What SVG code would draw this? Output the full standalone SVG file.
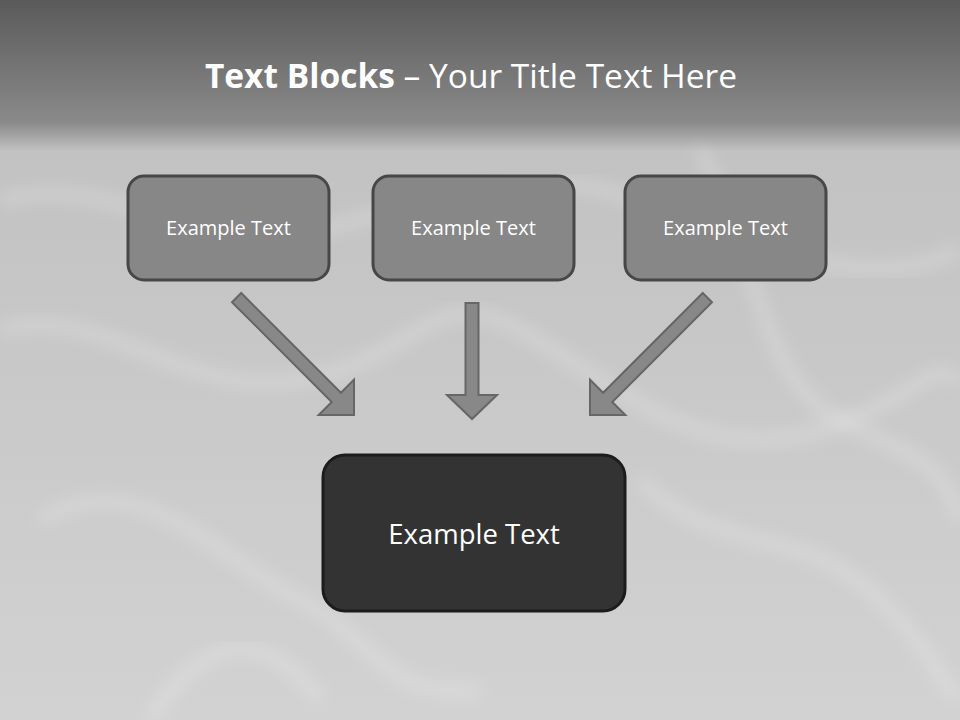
<svg xmlns="http://www.w3.org/2000/svg" width="960" height="720" viewBox="0 0 960 720">
<defs>
<linearGradient id="bg" x1="0" y1="0" x2="0" y2="1">
<stop offset="0" stop-color="#5a5a5a"/>
<stop offset="0.17" stop-color="#8a8a8a"/>
<stop offset="0.21" stop-color="#c2c2c2"/>
<stop offset="0.6" stop-color="#cacaca"/>
<stop offset="1" stop-color="#d2d2d2"/>
</linearGradient>
<filter id="blur" x="-10%" y="-10%" width="120%" height="120%"><feGaussianBlur stdDeviation="8"/></filter>
<path id="arr" d="M -6.5 -166 L 6.5 -166 L 6.5 -25 L 25 -25 L 0 0 L -25 -25 L -6.5 -25 Z"/>
<path id="arrv" d="M -6.5 -116 L 6.5 -116 L 6.5 -24 L 25 -24 L 0 0 L -25 -24 L -6.5 -24 Z"/>
</defs>
<style>
.box{fill:#878787;stroke:#474747;stroke-width:3}
.main{fill:#333333;stroke:#1c1c1c;stroke-width:3}
.lbl{font-family:"Open Sans","Liberation Sans",sans-serif;font-size:20px;fill:#ffffff;text-anchor:middle}
.lblm{font-family:"Open Sans","Liberation Sans",sans-serif;font-size:27.5px;fill:#ffffff;text-anchor:middle}
.arrow{fill:#888888;stroke:#666666;stroke-width:2;stroke-linejoin:miter}
.silk{fill:none;stroke:#ffffff;stroke-opacity:0.22;stroke-width:12;filter:url(#blur)}
</style>
<rect x="0" y="0" width="960" height="720" fill="url(#bg)"/>
<g id="satin">
<path class="silk" d="M 0 200 C 120 170 200 260 320 230 S 520 160 640 200 S 860 300 960 250"/>
<path class="silk" d="M 0 330 C 100 300 180 400 300 380 S 430 280 520 330 S 700 470 820 430 S 920 360 960 380"/>
<path class="silk" d="M 40 520 C 140 460 220 560 300 600 S 380 700 480 690"/>
<path class="silk" d="M 640 480 C 720 560 800 520 880 600 S 940 700 960 690"/>
<path class="silk" d="M 700 150 C 760 260 760 380 840 420 S 940 460 960 520"/>
<path class="silk" d="M 150 720 C 200 640 260 620 320 700"/>
</g>
<text x="471" y="88" font-family="Open Sans, Liberation Sans, sans-serif" font-size="33.5" fill="#ffffff" text-anchor="middle"><tspan font-weight="bold">Text Blocks</tspan> – Your Title Text Here</text>
<g id="connectors">
<use href="#arr" class="arrow" transform="translate(354,415) rotate(-45)"/>
<use href="#arrv" class="arrow" transform="translate(472,419)"/>
<use href="#arr" class="arrow" transform="translate(590,415) rotate(45)"/>
</g>
<g id="node1">
<rect class="box" x="128" y="176" width="201" height="104" rx="16"/>
<text class="lbl" x="228.5" y="235">Example Text</text>
</g>
<g id="node2">
<rect class="box" x="373" y="176" width="201" height="104" rx="16"/>
<text class="lbl" x="473.5" y="235">Example Text</text>
</g>
<g id="node3">
<rect class="box" x="625" y="176" width="201" height="104" rx="16"/>
<text class="lbl" x="725.5" y="235">Example Text</text>
</g>
<g id="node4">
<rect class="main" x="323" y="455" width="302" height="156" rx="22"/>
<text class="lblm" x="474" y="544">Example Text</text>
</g>
</svg>
